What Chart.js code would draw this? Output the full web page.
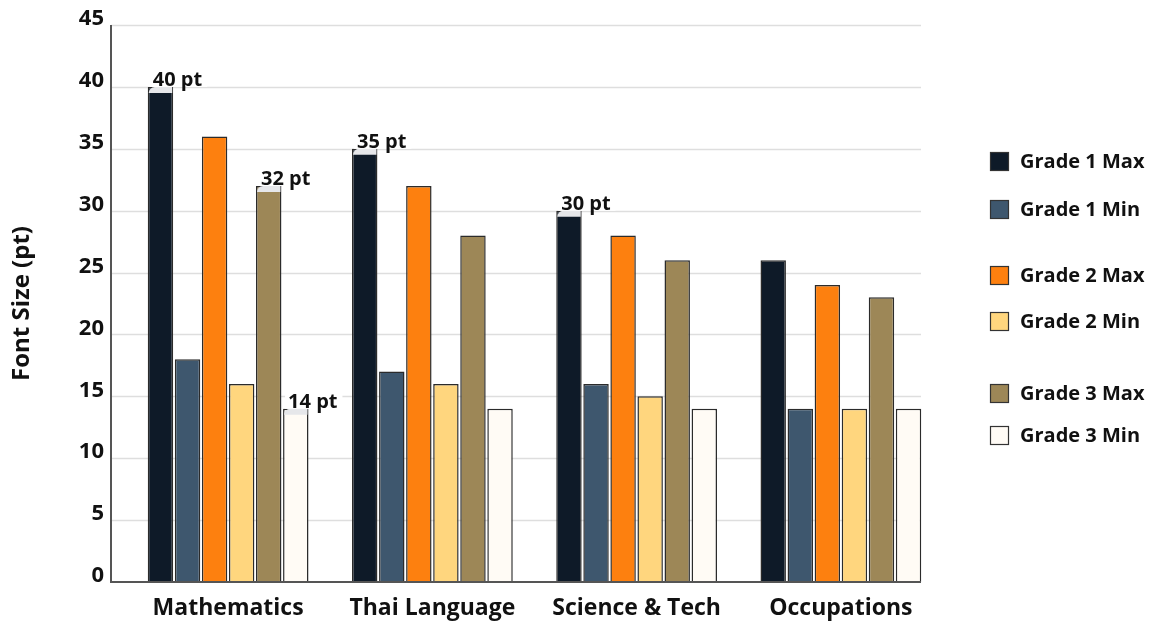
<!DOCTYPE html>
<html>
<head>
<meta charset="utf-8">
<script src="https://cdn.jsdelivr.net/npm/chart.js@4/dist/chart.umd.min.js"></script>
<style>
  html, body { margin: 0; padding: 0; background: #fff; }
  #wrap { width: 1151px; height: 624px; }
</style>
</head>
<body>
<div id="wrap"><canvas id="chart" width="1151" height="624"></canvas></div>
<script>
// ---- data ----
const subjects = ['Mathematics', 'Thai Language', 'Science & Tech', 'Occupations'];
const seriesNames = ['Grade 1 Max', 'Grade 1 Min', 'Grade 2 Max', 'Grade 2 Min', 'Grade 3 Max', 'Grade 3 Min'];
const grade1Max = [40, 35, 30, 26];
const grade1Min = [18, 17, 16, 14];
const grade2Max = [36, 32, 28, 24];
const grade2Min = [16, 16, 15, 14];
const grade3Max = [32, 28, 26, 23];
const grade3Min = [14, 14, 14, 14];
const seriesColors = ['#0e1a28', '#3e576e', '#fd800f', '#ffd67e', '#9d8757', '#fffbf5'];
const yTicks = [0, 5, 10, 15, 20, 25, 30, 35, 40, 45];
// which bars carry a "NN pt" callout: [series index, subject index]
const callouts = [[0, 0], [0, 1], [0, 2], [4, 0], [5, 0]];

const seriesValues = [grade1Max, grade1Min, grade2Max, grade2Min, grade3Max, grade3Min];
const FONT = "'Open Sans', 'DejaVu Sans', sans-serif";

// =========================
// GRID + AXES (drawn a bit wider than the bar area, like the original)
// =========================
const axesPlugin = {
    id: 'axesPlugin',
    beforeDatasetsDraw(chart) {
        const { ctx, chartArea, scales } = chart;
        const x0 = chartArea.left - 15, x1 = chartArea.right - 22;
        ctx.save();
        ctx.strokeStyle = '#dedede';
        ctx.lineWidth = 1.5;
        yTicks.forEach(v => {
            if (v === 0) return;
            const y = Math.round(scales.y.getPixelForValue(v)) + 0.5;
            ctx.beginPath();
            ctx.moveTo(x0, y);
            ctx.lineTo(x1, y);
            ctx.stroke();
        });
        ctx.restore();
    },
    afterDatasetsDraw(chart) {
        const { ctx, chartArea, scales } = chart;
        const x0 = chartArea.left - 15, x1 = chartArea.right - 22;
        const yTop = scales.y.getPixelForValue(45);
        const yBot = scales.y.getPixelForValue(0);
        ctx.save();
        ctx.strokeStyle = '#555';
        ctx.lineWidth = 2;
        ctx.beginPath();
        ctx.moveTo(x0, yTop);
        ctx.lineTo(x0, yBot);
        ctx.lineTo(x1, yBot);
        ctx.stroke();

        // callouts
        ctx.font = `bold 20px ${FONT}`;
        ctx.textBaseline = 'alphabetic';
        callouts.forEach(([di, ci]) => {
            const bar = chart.getDatasetMeta(di).data[ci];
            const left = bar.x - bar.width / 2;
            const text = seriesValues[di][ci] + ' pt';
            const tw = ctx.measureText(text).width;
            // light corner patch over the bar top
            ctx.fillStyle = '#e6e7ea';
            ctx.beginPath();
            ctx.roundRect(left + 1, bar.y, bar.width - 2, 6, [6, 0, 0, 0]);
            ctx.fill();
            // white label box
            ctx.fillStyle = '#ffffff';
            ctx.beginPath();
            ctx.roundRect(left + 2, bar.y - 21, tw + 8, 21, [6, 6, 0, 0]);
            ctx.fill();
            ctx.fillStyle = '#111';
            ctx.fillText(text, left + 5, bar.y - 1);
        });
        ctx.restore();
    },
    afterDraw(chart) {
        // legend with grade grouping gaps
        const { ctx } = chart;
        const rowsY = [161, 209, 275, 321, 393, 435];
        ctx.save();
        ctx.font = `bold 20px ${FONT}`;
        ctx.textBaseline = 'middle';
        chart.data.datasets.forEach((ds, i) => {
            const y = rowsY[i];
            ctx.fillStyle = ds.backgroundColor;
            ctx.fillRect(990, y - 9, 19, 19);
            ctx.strokeStyle = '#333';
            ctx.lineWidth = 1.2;
            ctx.strokeRect(990.5, y - 8.5, 18, 18);
            ctx.fillStyle = '#111';
            ctx.fillText(ds.label, 1020, y + 1);
        });
        ctx.restore();
    }
};

new Chart(document.getElementById('chart'), {
    type: 'bar',
    data: {
        labels: subjects,
        datasets: seriesNames.map((name, i) => ({
            label: name,
            data: seriesValues[i],
            backgroundColor: seriesColors[i],
            borderColor: '#2b2b2b',
            borderWidth: 1.5,
            categoryPercentage: 0.795,
            barPercentage: 0.94
        }))
    },
    options: {
        responsive: false,
        devicePixelRatio: 1,
        animation: false,
        layout: { padding: { left: 0, right: 208, top: 25, bottom: 0 } },
        plugins: {
            legend: { display: false },
            tooltip: { enabled: false }
        },
        scales: {
            x: {
                grid: { display: false, drawTicks: false },
                border: { display: false },
                ticks: {
                    color: '#111',
                    font: { family: FONT, size: 23, weight: 'bold' },
                    padding: 13
                },
                afterFit(s) { s.height = 42; s.paddingLeft = 0; s.paddingRight = 0; }
            },
            y: {
                min: 0,
                max: 45,
                grid: { display: false, drawTicks: false },
                border: { display: false },
                ticks: {
                    stepSize: 5,
                    color: '#111',
                    font: { family: FONT, size: 22, weight: 'bold' },
                    padding: 22,
                    labelOffset: -6
                },
                title: {
                    display: true,
                    text: 'Font Size (pt)',
                    color: '#111',
                    font: { family: FONT, size: 24, weight: 'bold' },
                    padding: { top: 8, bottom: 0 }
                },
                afterFit(s) { s.width = 126; s.paddingTop = 0; s.paddingBottom = 0; }
            }
        }
    },
    plugins: [axesPlugin]
});
</script>
</body>
</html>
